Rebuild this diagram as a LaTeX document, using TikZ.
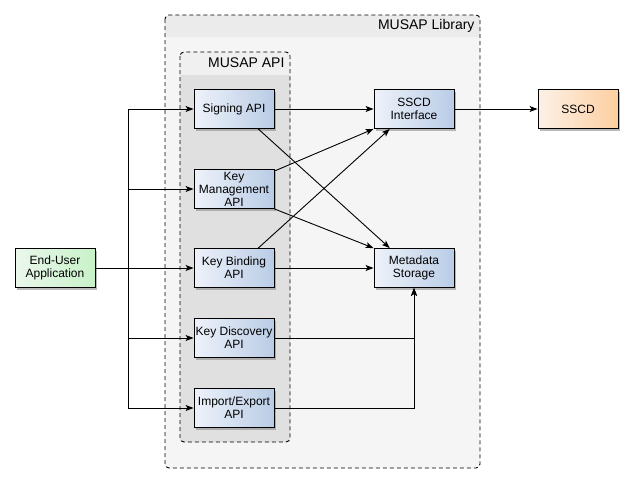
\documentclass[tikz,border=0pt]{standalone}
\usepackage{fontspec}
\setmainfont{Liberation Sans}
\usetikzlibrary{arrows.meta,shadows,calc}
\definecolor{boxl}{HTML}{EEF2FA}
\definecolor{boxr}{HTML}{B9CCE6}
\definecolor{ssl}{HTML}{FCF1E7}
\definecolor{ssr}{HTML}{FDCFA0}
\definecolor{appl}{HTML}{EAF7EC}
\definecolor{appr}{HTML}{C8F2C8}
\tikzset{
  apibox/.style={draw, line width=0.9pt, minimum width=80pt, minimum height=39pt,
    inner sep=0pt, align=center, font=\fontsize{12}{13}\selectfont,
    left color=boxl, right color=boxr,
    drop shadow={shadow xshift=2pt, shadow yshift=-2pt, fill=black!45, opacity=0.6}},
  sscdbox/.style={apibox, left color=ssl, right color=ssr},
  appbox/.style={apibox, left color=appl, right color=appr},
  arr/.style={-{Stealth[length=8pt,width=6pt,inset=2pt]}, line width=0.9pt},
  frame/.style={dashed, dash pattern=on 4pt off 3pt, line width=0.9pt, rounded corners=4pt},
}
\begin{document}
\begin{tikzpicture}[x=1pt,y=-1pt]
		\useasboundingbox (0,0) rectangle (634,485);
		
		% library container
		\fill[black!4, rounded corners=4pt] (165,15) rectangle (480,468);
		\fill[black!8, rounded corners=4pt] (165,15) rectangle (480,37);
		\fill[black!8] (165,30) rectangle (480,37);
		\draw[frame] (165,15) rectangle (480,468);
		\node[anchor=east, font=\fontsize{14}{16}\selectfont] (libtitle) at (478,26) {MUSAP Library};
		
		% api container
		\fill[black!12, rounded corners=4pt] (180,52) rectangle (290,442);
		\fill[black!6, rounded corners=4pt] (180,52) rectangle (290,75);
		\fill[black!6] (180,68) rectangle (290,75);
		\draw[frame] (180,52) rectangle (290,442);
		\node[anchor=east, font=\fontsize{14}{16}\selectfont] (apititle) at (288,63) {MUSAP API};
		
		% boxes
		\node[apibox] (sign) at (234,109) {Signing API};
		\node[apibox] (keymgmt) at (234,189) {Key\\Management\\API};
		\node[apibox] (bind) at (234,268) {Key Binding\\API};
		\node[apibox] (disc) at (234,338) {Key Discovery\\API};
		\node[apibox] (impexp) at (234,408) {Import/Export\\API};
		
		\node[apibox] (iface) at (414,109) {SSCD\\Interface};
		\node[apibox] (meta) at (414,268) {Metadata\\Storage};
		\node[sscdbox] (sscd) at (578,109) {SSCD};
		\node[appbox] (app) at (55,268) {End-User\\Application};
		
		% from the application
		\coordinate (trunk) at (128,268);
		\draw[arr] (app.east) -- (bind.west);
		\draw[arr] (app.east) -- (trunk) |- (sign.west);
		\draw[arr] (app.east) -- (trunk) |- (keymgmt.west);
		\draw[arr] (app.east) -- (trunk) |- (disc.west);
		\draw[arr] (app.east) -- (trunk) |- (impexp.west);
		
		% api to backend
		\draw[arr] (sign.east) -- (iface.west);
		\draw[arr] ($(sign.south west)!0.8!(sign.south east)$) -- ($(meta.north west)!0.2!(meta.north east)$);
		\draw[arr] ($(keymgmt.north east)!0.05!(keymgmt.south east)$) -- (iface.south west);
		\draw[arr] (keymgmt.south east) -- (meta.north west);
		\draw[arr] ($(bind.north west)!0.8!(bind.north east)$) -- ($(iface.south west)!0.2!(iface.south east)$);
		\draw[arr] (bind.east) -- (meta.west);
		\draw[arr] (disc.east) -| (meta.south);
		\draw[arr] (impexp.east) -| (meta.south);
		\draw[arr] (iface.east) -- (sscd.west);
	\end{tikzpicture}
\end{document}
